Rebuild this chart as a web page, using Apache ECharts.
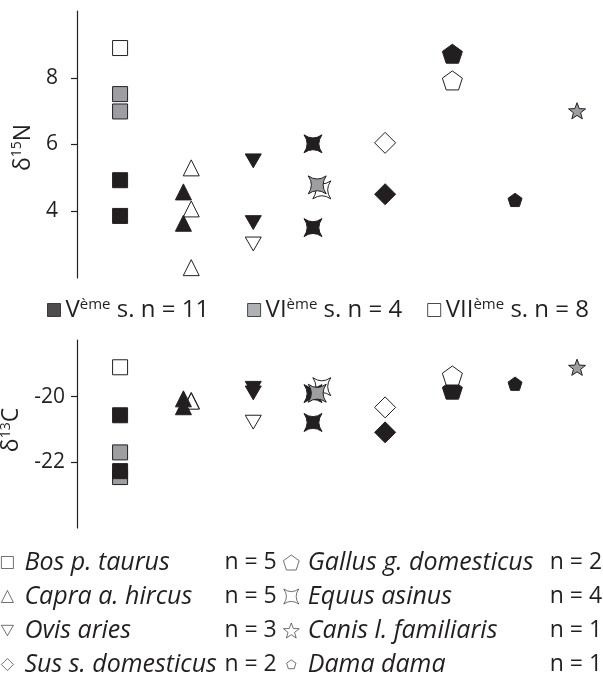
<!DOCTYPE html>
<html><head><meta charset="utf-8">
<script src="https://cdn.jsdelivr.net/npm/echarts@6/dist/echarts.min.js"></script>
<style>html,body{margin:0;padding:0;background:#fff}#c{width:603px;height:677px}</style>
</head><body><div id="c"></div><script>
// ---------- data ----------
const periods = ['V', 'VI', 'VII'];
const periodCounts = [11, 4, 8];
const speciesNames = ['Bos p. taurus', 'Capra a. hircus', 'Ovis aries', 'Sus s. domesticus',
                      'Gallus g. domesticus', 'Equus asinus', 'Canis l. familiaris', 'Dama dama'];
const speciesCounts = [5, 5, 3, 2, 2, 4, 1, 1];
const speciesX = [1, 2.03, 3.04, 5.06, 6.09, 4.02, 8.0, 7.05];
const yTicksN = [4, 6, 8];
const yTicksC = [-22, -20];

const bosN    = {V: [4.93, 3.86], VI: [7.51, 6.99], VII: [8.89]};
const bosC    = {V: [-20.57, -22.27], VI: [-21.70, -22.45], VII: [-19.11]};
const capraN  = {V: [4.58, 3.64], VII: [5.30, 4.07, 2.31]};
const capraC  = {V: [-20.07, -20.31], VII: [-20.12, -20.13, -20.14]};
const ovisN   = {V: [5.51, 3.66], VII: [3.02]};
const ovisC   = {V: [-19.75, -19.89], VII: [-20.78]};
const susN    = {V: [4.51], VII: [6.05]};
const susC    = {V: [-21.09], VII: [-20.33]};
const gallusN = {V: [8.72], VII: [7.92]};
const gallusC = {V: [-19.79], VII: [-19.36]};
const equusN  = {V: [6.02, 3.51], VI: [4.79], VII: [4.64]};
const equusC  = {V: [-19.91, -20.79], VI: [-19.90], VII: [-19.70]};
const canisN  = {VI: [7.01]};
const canisC  = {VI: [-19.11]};
const damaN   = {V: [4.34]};
const damaC   = {V: [-19.61]};

// small horizontal offsets of periods inside a species column
const capraShift = {V: -0.06, VII: 0.06};
const equusShift = {V: -0.065, VI: 0, VII: 0.07};

// ---------- styles ----------
const INK = '#231f20';
const fillOf = {V: INK, VI: '#9c9ea1', VII: '#ffffff'};
const FONT = 'Open Sans';
const PENT = 'path://M50,0 L100,36.3 L80.9,95.1 L19.1,95.1 L0,36.3 Z';
const STAR4 = 'path://M0,0 Q10,7 20,0 Q13,10 20,20 Q10,13 0,20 Q7,10 0,0 Z';
const STAR5 = 'path://M50,0 L62.34,33.01 L97.55,34.55 L69.97,56.49 L79.39,90.45 L50,71 L20.61,90.45 L30.03,56.49 L2.45,34.55 L37.66,33.01 Z';
const DOWN = 'path://M0,0 L20,0 L10,17.3 Z';

const speciesDefs = [
  {i: 0, N: bosN, C: bosC, order: ['VI', 'VII', 'V'], sym: 'rect', size: 15, shift: {}},
  {i: 1, N: capraN, C: capraC, order: ['VII', 'V'], sym: 'triangle', size: [16, 16], shift: capraShift},
  {i: 2, N: ovisN, C: ovisC, order: ['V', 'VII'], sym: DOWN, size: [16, 16], shift: {}},
  {i: 5, N: equusN, C: equusC, order: ['VII', 'V', 'VI'], sym: STAR4, size: 18, shift: equusShift},
  {i: 3, N: susN, C: susC, order: ['VII', 'V'], sym: 'diamond', size: 21, shift: {}},
  {i: 4, N: gallusN, C: gallusC, order: ['V', 'VII'], sym: PENT, size: 20, shift: {}},
  {i: 7, N: damaN, C: damaC, order: ['V'], sym: PENT, size: 14, shift: {}},
  {i: 6, N: canisN, C: canisC, order: ['VI'], sym: STAR5, size: 17, shift: {}}
];

const series = [];
speciesDefs.forEach(d => {
  [['N', 0], ['C', 1]].forEach(([iso, ax]) => {
    d.order.forEach(p => {
      const vals = d[iso][p] || [];
      const x = speciesX[d.i] + (d.shift[p] || 0);
      series.push({
        type: 'scatter', name: speciesNames[d.i] + ' / ' + p + ' / ' + iso,
        xAxisIndex: ax, yAxisIndex: ax,
        symbol: d.sym, symbolSize: d.size, symbolKeepAspect: true,
        itemStyle: {color: fillOf[p], borderColor: INK, borderWidth: 1, opacity: 1},
        emphasis: {disabled: true},
        data: vals.map(v => [x, v])
      });
    });
  });
});

// dummy series that only carry legend entries
const legendIcon = {
  'Bos p. taurus': 'rect', 'Capra a. hircus': 'triangle', 'Ovis aries': DOWN,
  'Sus s. domesticus': 'diamond', 'Gallus g. domesticus': PENT, 'Equus asinus': STAR4,
  'Canis l. familiaris': STAR5, 'Dama dama': 'path://M50,0 L100,36.3 L80.9,95.1 L19.1,95.1 L0,36.3 Z M-30,-30 M130,130'
};
periods.forEach(p => series.push({type: 'scatter', name: p, data: [], itemStyle: {color: fillOf[p], borderColor: INK, borderWidth: 1}}));
speciesNames.forEach(n => series.push({type: 'scatter', name: n, data: [], itemStyle: {color: '#fff', borderColor: INK, borderWidth: 0.8}}));

const baseText = {fontFamily: FONT, fontSize: 21, color: INK};

const option = {
  animation: false,
  backgroundColor: '#ffffff',
  grid: [
    {left: 77, width: 518, top: 11, height: 267, outerBoundsMode: 'none', containLabel: false},
    {left: 77, width: 518, top: 340, height: 188, outerBoundsMode: 'none', containLabel: false}
  ],
  xAxis: [0, 1].map(g => ({
    type: 'value', gridIndex: g, min: 0.34, max: 8.275, show: false
  })),
  yAxis: [
    {
      type: 'value', gridIndex: 0, min: 2, max: 10,
      name: '{d|δ}{s|15}{e|N}', nameLocation: 'middle', nameRotate: 90, nameGap: 41,
      nameTextStyle: {rich: {
        d: {...baseText, fontSize: 23, lineHeight: 26},
        s: {...baseText, fontSize: 14, lineHeight: 26, verticalAlign: 'top'},
        e: {...baseText, fontSize: 23, lineHeight: 26, padding: [0, 6, 0, 0]}
      }},
      axisLine: {show: true, lineStyle: {color: INK, width: 1.2}},
      axisTick: {show: true, length: 6, lineStyle: {color: INK, width: 1.2}, customValues: yTicksN},
      axisLabel: {show: true, margin: 19, ...baseText, fontSize: 21, customValues: yTicksN},
      splitLine: {show: false}
    },
    {
      type: 'value', gridIndex: 1, min: -24, max: -18.28,
      name: '{d|δ}{s|13}{e|C}', nameLocation: 'middle', nameRotate: 90, nameGap: 41,
      nameTextStyle: {rich: {
        d: {...baseText, fontSize: 23, lineHeight: 26, padding: [0, 0, 0, 8]},
        s: {...baseText, fontSize: 14, lineHeight: 26, verticalAlign: 'top'},
        e: {...baseText, fontSize: 23, lineHeight: 26}
      }},
      axisLine: {show: true, lineStyle: {color: INK, width: 1.2}},
      axisTick: {show: true, length: 6, lineStyle: {color: INK, width: 1.2}, customValues: yTicksC},
      axisLabel: {show: true, margin: 12, ...baseText, fontSize: 21, customValues: yTicksC},
      splitLine: {show: false}
    }
  ],
  legend: [
    {
      orient: 'horizontal', left: 47, top: 297, width: 560, padding: 0, itemGap: 25,
      itemWidth: 13, itemHeight: 13, selectedMode: false,
      data: periods.map(p => ({name: p, icon: 'rect', itemStyle: {color: fillOf[p], borderColor: INK, borderWidth: 1}})),
      formatter: name => '{a|' + name + '}{s|ème}{a| s. n = ' + periodCounts[periods.indexOf(name)] + '}' + (name === 'V' ? '{g|}' : ''),
      textStyle: {rich: {
        a: {...baseText, fontSize: 24, lineHeight: 26},
        s: {...baseText, fontSize: 15, lineHeight: 22, verticalAlign: 'top'},
        g: {width: 13, lineHeight: 26}
      }}
    },
    {
      orient: 'vertical', left: 1, top: 550, width: 290, height: 200, padding: 0, itemGap: 9,
      itemWidth: 12, itemHeight: 12, selectedMode: false,
      data: speciesNames.slice(0, 4).map(n => ({name: n, icon: legendIcon[n], itemStyle: {color: '#fff', borderColor: INK, borderWidth: 0.8}})),
      formatter: name => '{it|' + name + '}{n|n = ' + speciesCounts[speciesNames.indexOf(name)] + '}',
      textStyle: {rich: {
        it: {...baseText, fontSize: 25, fontStyle: 'italic', width: 200, padding: [0, 0, 0, 6], lineHeight: 21},
        n: {...baseText, fontSize: 23, lineHeight: 21}
      }}
    },
    {
      orient: 'vertical', left: 283, top: 550, width: 340, height: 200, padding: 0, itemGap: 9,
      itemWidth: 17, itemHeight: 15, selectedMode: false,
      data: speciesNames.slice(4).map(n => ({name: n, icon: legendIcon[n], itemStyle: {color: '#fff', borderColor: INK, borderWidth: 0.8}})),
      formatter: name => '{it|' + name + '}{n|n = ' + speciesCounts[speciesNames.indexOf(name)] + '}',
      textStyle: {rich: {
        it: {...baseText, fontSize: 25, fontStyle: 'italic', width: 242, padding: [0, 0, 0, 3], lineHeight: 21},
        n: {...baseText, fontSize: 23, lineHeight: 21}
      }}
    }
  ],
  series: series
};

const chart = echarts.init(document.getElementById('c'), null, {renderer: 'canvas'});
chart.setOption(option);
</script></body></html>
